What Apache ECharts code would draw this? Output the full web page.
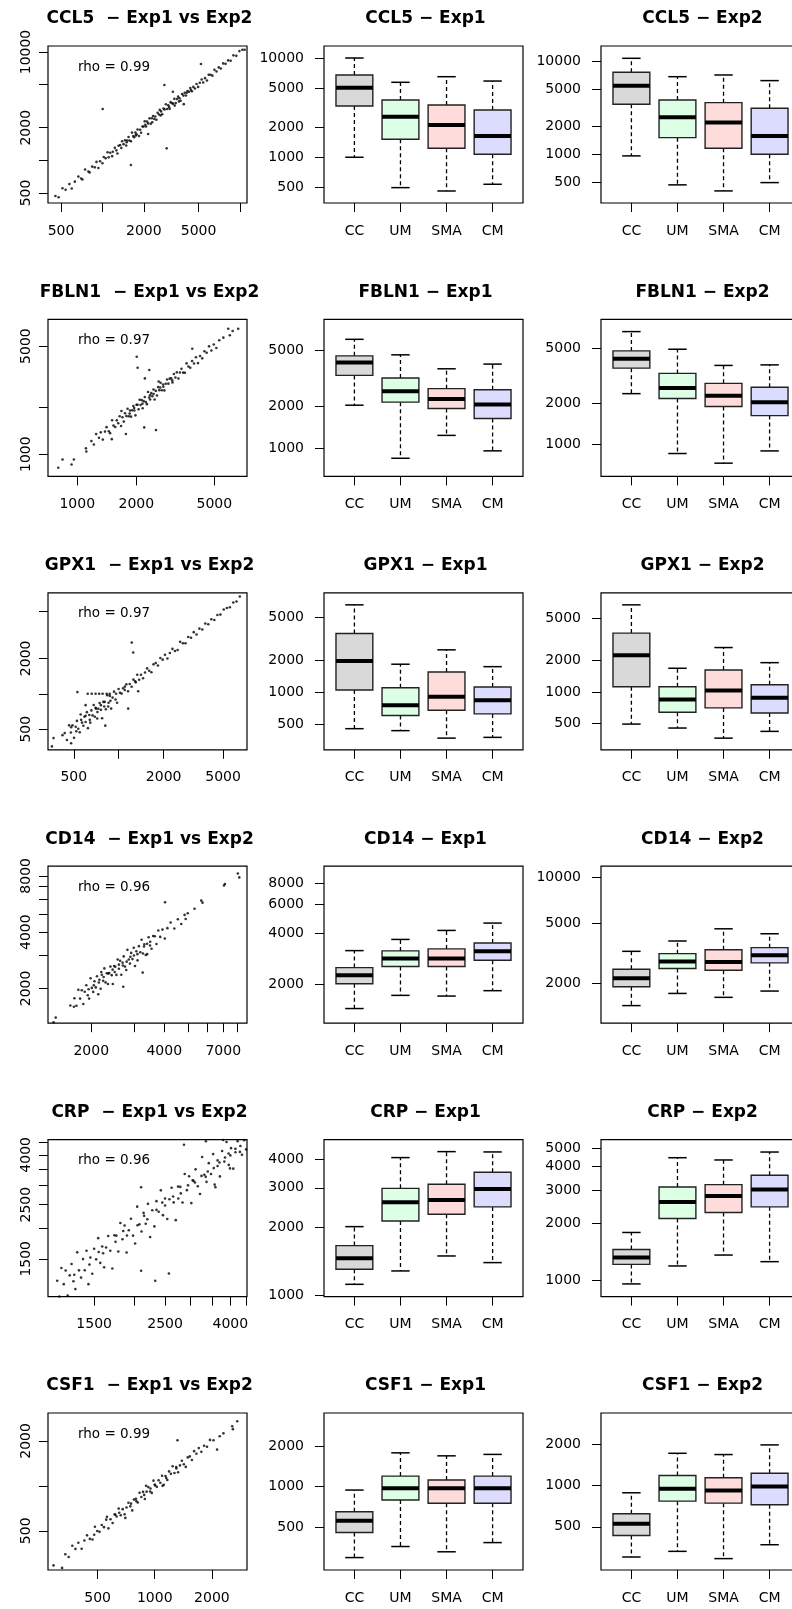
<!DOCTYPE html>
<html>
<head>
<meta charset="utf-8">
<script src="https://cdn.jsdelivr.net/npm/echarts@6/dist/echarts.min.js"></script>
<style>
html,body{margin:0;padding:0;background:#fff;overflow:hidden;}
#chart{width:800px;height:1609px;}
</style>
</head>
<body>
<div id="chart"></div>
<script>
// ---------------- DATA ----------------
const genes = ['CCL5', 'FBLN1', 'GPX1', 'CD14', 'CRP', 'CSF1'];
const groups = ['CC', 'UM', 'SMA', 'CM'];
const rhoValues = ['0.99', '0.97', '0.97', '0.96', '0.96', '0.99'];

// Exp1 vs Exp2 scatter pairs [exp1, exp2] (read/estimated from the picture)
const ccl5Pairs = [[455,469],[480,456],[512,553],[540,535],[575,604],[598,550],[630,636],[668,708],[700,679],[715,665],[748,823],[790,790],[806,774],[842,876],[880,862],[905,968],[935,851],[962,981],[1000,940],[1022,1073],[1055,1044],[1090,1188],[1110,1066],[1140,1174],[1175,1093],[1190,1202],[1230,1304],[1262,1237],[1285,1157],[1310,1362],[1345,1385],[1372,1303],[1390,1501],[1425,1411],[1460,1533],[1488,1369],[1510,1525],[1548,1641],[1570,1523],[1612,1499],[1640,1804],[1675,1675],[1700,1632],[1735,1804],[1772,1737],[1800,1926],[1845,1679],[1880,1918],[1910,1795],[1955,2053],[1990,2050],[2030,2294],[2075,2054],[2110,2279],[2150,2193],[2200,2442],[2245,2178],[2290,2450],[2330,2563],[2385,2409],[2420,2541],[2470,2371],[2520,2747],[2575,2652],[2610,2923],[2670,2830],[2720,2666],[2780,3002],[2830,2943],[2890,3295],[2950,2980],[3010,3221],[3080,2988],[3130,3443],[3200,3360],[3270,3335],[3330,3696],[3410,3376],[3480,3689],[3550,3870],[3630,3739],[3700,3552],[3790,4093],[3880,3958],[3960,4198],[4050,3969],[4150,4358],[4260,4303],[4350,4655],[4470,4336],[4580,4763],[4700,4606],[4830,5072],[4960,4762],[5100,5202],[5260,5576],[5400,5238],[5570,5737],[5750,5463],[5920,6157],[6100,6161],[6300,6048],[6520,6846],[6750,6615],[7000,7210],[7250,7033],[7550,7852],[7850,7772],[8200,8364],[8550,8294],[8950,9308],[9400,9212],[9900,10197],[10400,10504],[10800,10476],[2300,2250],[2650,2600],[3050,3100],[3600,3500],[4100,4200],[1500,1470],[1750,1700],[2050,2130],[4400,4450],[3350,3200],[1004,2980],[2820,4960],[2930,1290],[1610,907],[5200,7740],[3250,4300],[2150,1750],[3900,3300]];
const fbln1Pairs = [[770,706],[800,817],[841,924],[935,858],[961,924],[1107,1090],[1112,1040],[1180,1215],[1215,1154],[1248,1348],[1290,1277],[1318,1384],[1350,1242],[1385,1399],[1410,1495],[1448,1405],[1470,1367],[1505,1656],[1530,1530],[1562,1500],[1590,1654],[1618,1586],[1645,1760],[1672,1522],[1700,1734],[1728,1624],[1752,1840],[1780,1762],[1805,1967],[1830,1757],[1858,1914],[1880,1748],[1905,1924],[1932,2048],[1955,1916],[1980,1782],[2005,2085],[2028,2089],[2055,1952],[2080,2246],[2102,2081],[2130,2237],[2155,1983],[2180,2202],[2210,2343],[2238,2171],[2265,2106],[2295,2525],[2325,2325],[2352,2258],[2385,2480],[2415,2367],[2448,2619],[2480,2257],[2515,2565],[2550,2397],[2585,2714],[2620,2594],[2660,2899],[2700,2592],[2740,2822],[2780,2585],[2825,2853],[2870,3042],[2915,2857],[2960,3078],[3010,3100],[3060,2907],[3110,3297],[3165,3133],[3220,3381],[3280,3083],[3340,3373],[3400,3570],[3470,3366],[3540,3363],[3610,3863],[3690,3690],[3770,3619],[3850,4004],[3940,3861],[4030,4232],[4130,3882],[4230,4315],[4340,4166],[4450,4628],[4570,4524],[4700,4982],[4830,4685],[4970,5119],[5120,4864],[5300,5459],[5560,5671],[5890,6470],[6000,5880],[6200,6262],[6620,6470],[1850,1830],[2150,2120],[2450,2450],[2750,2730],[3050,3000],[2350,2400],[1950,1990],[2650,2700],[2010,4270],[2032,3620],[2330,3500],[2212,3090],[2195,1490],[2520,1431],[1770,1349],[3860,4810],[1500,1250],[1680,1900],[2600,2950]];
const gpx1Pairs = [[366,420],[357,357],[435,463],[420,445],[450,405],[465,539],[478,468],[490,539],[502,422],[515,525],[525,588],[536,504],[548,471],[556,667],[568,568],[580,534],[590,637],[600,576],[612,698],[622,510],[635,660],[645,568],[656,722],[668,655],[680,802],[692,637],[705,747],[718,617],[730,745],[745,834],[760,730],[774,619],[790,853],[805,853],[820,738],[838,972],[855,838],[872,959],[890,748],[910,928],[930,1042],[952,895],[975,839],[998,1098],[1020,1020],[1045,1003],[1070,1113],[1098,1076],[1125,1204],[1155,1051],[1185,1209],[1220,1147],[1255,1318],[1290,1277],[1330,1450],[1370,1315],[1410,1452],[1455,1353],[1500,1515],[1550,1643],[1600,1568],[1655,1523],[1710,1778],[1770,1823],[1830,1739],[1900,2014],[1970,1950],[2040,2142],[2120,1993],[2200,2222],[2290,2405],[2380,2309],[2480,2356],[2580,2761],[2690,2690],[2800,2688],[2920,3037],[3050,2989],[3180,3339],[3320,3187],[3470,3574],[3630,3521],[3800,3952],[3980,3900],[4170,4295],[4370,4239],[4580,4672],[4800,4704],[5050,5202],[5300,5353],[5550,5439],[5850,5967],[6150,6089],[6470,6700],[560,600],[640,600],[720,700],[800,780],[880,870],[960,1000],[600,650],[700,760],[850,780],[1100,1150],[1300,1250],[520,480],[480,520],[760,800],[1222,2720],[1250,2240],[529,1033],[620,1000],[660,1000],[700,1000],[740,1000],[780,1000],[830,1000],[870,1000],[1157,748],[813,536],[600,800],[480,380],[1350,1050]];
const cd14Pairs = [[1428,1396],[1399,1318],[1697,1597],[1640,1620],[1705,1773],[1738,1616],[1770,1965],[1800,1764],[1828,1956],[1855,1651],[1880,1918],[1908,2080],[1935,1838],[1960,1764],[1988,2266],[2012,2012],[2038,1916],[2062,2186],[2088,2025],[2112,2323],[2138,1860],[2162,2227],[2188,1991],[2212,2367],[2240,2195],[2265,2559],[2292,2154],[2318,2411],[2345,2111],[2372,2419],[2400,2616],[2428,2355],[2455,2111],[2485,2634],[2512,2612],[2540,2362],[2570,2853],[2600,2548],[2630,2814],[2660,2367],[2692,2746],[2722,2967],[2755,2617],[2788,2509],[2820,3215],[2855,2855],[2888,2715],[2922,3097],[2958,2869],[2995,3295],[3030,2636],[3068,3160],[3105,2826],[3145,3365],[3185,3121],[3225,3644],[3268,3072],[3310,3442],[3355,3020],[3400,3468],[3448,3758],[3495,3390],[3545,3261],[3600,3816],[3655,3801],[3715,3455],[3780,4082],[3850,3773],[3930,4127],[4020,3698],[4120,4202],[4250,4505],[4400,4180],[4550,4687],[4700,4418],[4850,4947],[2150,2150],[2350,2400],[2500,2450],[2700,2650],[2900,2950],[3100,3050],[3300,3350],[2250,2300],[2050,2080],[2600,2680],[2800,2780],[3000,3000],[3500,3550],[2450,2520],[1950,1980],[8040,8240],[8150,7850],[7110,7240],[7050,7100],[5680,5900],[5750,5750],[4030,5780],[5330,5330],[5000,5050],[4900,4700],[2710,2040],[3260,2430],[2200,2450],[3400,3050]];
const crpPairs = [[1150,1219],[1168,1051],[1185,1375],[1205,1181],[1222,1344],[1240,1060],[1258,1283],[1275,1428],[1292,1214],[1310,1127],[1328,1594],[1345,1345],[1365,1256],[1385,1496],[1402,1346],[1420,1619],[1440,1181],[1460,1518],[1480,1302],[1500,1650],[1522,1492],[1545,1823],[1568,1443],[1590,1685],[1612,1386],[1635,1668],[1660,1859],[1685,1618],[1710,1368],[1735,1874],[1760,1866],[1785,1607],[1812,2102],[1840,1803],[1868,2055],[1895,1592],[1925,1964],[1955,2190],[1985,1866],[2015,1733],[2045,2454],[2078,2078],[2110,1941],[2142,2313],[2175,2088],[2210,2519],[2245,1841],[2280,2371],[2315,2037],[2350,2585],[2388,2340],[2425,2862],[2462,2265],[2500,2650],[2540,2184],[2580,2632],[2620,2934],[2660,2554],[2700,2160],[2745,2965],[2790,2957],[2835,2552],[2880,3341],[2925,2867],[2972,3269],[3020,2537],[3068,3129],[3115,3489],[3165,2975],[3215,2765],[3265,3918],[3318,3318],[3370,3100],[3425,3699],[3480,3341],[3535,4030],[3592,2945],[3650,3796],[3710,3265],[3770,4147],[3830,3753],[3892,4515],[3955,3639],[4020,4261],[4085,3513],[4150,4233],[4215,4552],[4285,4114],[4350,4002],[4420,4597],[4480,4211],[1300,1290],[1450,1420],[1600,1580],[1750,1760],[1900,1870],[2050,2060],[2200,2180],[2350,2380],[2500,2480],[2650,2700],[2800,2780],[2950,3000],[3100,3080],[3250,3280],[3400,3420],[3550,3530],[3700,3720],[3850,3900],[4000,3980],[4150,4100],[4300,4350],[2450,2550],[2750,2650],[3050,3150],[3350,3250],[3650,3600],[3950,4050],[2150,2250],[1850,1950],[1550,1600],[2104,1340],[2570,1306],[2329,1219],[2104,2945],[2865,4400],[3355,4550],[3573,3020],[3990,3520],[3800,4600]];
const csf1Pairs = [[293,293],[325,282],[338,348],[352,334],[368,397],[382,378],[396,416],[412,379],[426,430],[440,466],[455,441],[470,437],[484,532],[498,498],[512,492],[526,547],[540,529],[555,594],[570,519],[585,597],[600,564],[615,646],[630,624],[646,704],[662,636],[678,698],[694,645],[710,717],[727,771],[744,729],[761,685],[778,809],[796,820],[814,773],[832,899],[850,842],[868,911],[887,816],[906,915],[925,981],[945,917],[965,897],[985,1084],[1005,1005],[1026,985],[1048,1090],[1070,1049],[1093,1170],[1116,1016],[1140,1163],[1165,1095],[1190,1250],[1216,1204],[1243,1355],[1270,1219],[1298,1337],[1328,1235],[1358,1372],[1390,1473],[1423,1395],[1457,1340],[1492,1552],[1530,1576],[1570,1492],[1612,1709],[1658,1641],[1706,1791],[1760,1690],[1820,1856],[1885,1828],[1955,2033],[2040,2020],[2200,2150],[2300,2250],[2560,2510],[2580,2400],[2720,2710],[480,470],[620,640],[750,760],[880,870],[1000,1020],[1150,1130],[1300,1310],[800,790],[950,960],[650,660],[2130,1750],[1318,2020],[700,610],[900,1000],[560,620],[1100,1000]];

// Box summaries per group (CC, UM, SMA, CM): [lowWhisker, Q1, median, Q3, highWhisker]
const ccl5Exp1 = [[998,3280,5020,6740,10000],[493,1515,2560,3775,5690],[456,1230,2110,3360,6480],[533,1069,1636,2990,5860]];
const ccl5Exp2 = [[957,3460,5500,7680,10880],[465,1508,2505,3855,6880],[400,1159,2192,3604,7180],[492,997,1574,3135,6240]];
const fbln1Exp1 = [[2033,3320,4110,4580,6010],[849,2137,2557,3180,4655],[1237,1923,2253,2668,3700],[959,1634,2055,2624,3998]];
const fbln1Exp2 = [[2337,3584,4186,4783,6610],[857,2152,2570,3281,4920],[729,1883,2260,2778,3750],[895,1618,2025,2600,3785]];
const gpx1Exp1 = [[458,1050,1963,3540,6540],[439,607,759,1102,1828],[374,681,908,1549,2489],[380,629,845,1119,1734]];
const gpx1Exp2 = [[495,1119,2235,3625,6720],[454,641,848,1119,1679],[364,705,1033,1617,2641],[422,631,879,1170,1898]];
const cd14Exp1 = [[1438,2019,2270,2518,3175],[1722,2555,2846,3162,3700],[1706,2555,2846,3250,4185],[1836,2782,3147,3525,4627]];
const cd14Exp2 = [[1429,1902,2167,2483,3257],[1719,2508,2786,3144,3810],[1620,2444,2775,3340,4585],[1782,2734,3065,3444,4253]];
const crpExp1 = [[1122,1308,1462,1665,2020],[1286,2141,2588,2985,4083],[1498,2291,2653,3111,4339],[1400,2470,2966,3514,4325]];
const crpExp2 = [[961,1218,1325,1460,1794],[1195,2125,2600,3117,4443],[1364,2284,2795,3205,4323],[1259,2448,3018,3590,4760]];
const csf1Exp1 = [[298,457,560,653,945],[360,797,973,1200,1785],[329,754,973,1121,1696],[385,754,973,1200,1738]];
const csf1Exp2 = [[301,432,526,622,885],[331,769,946,1183,1718],[293,744,920,1138,1682],[370,724,983,1229,1978]];

// Axis ranges [min, max]
const scatterXRange = [[402,11240],[709,7340],[336,7230],[1327,8770],[1076,4510],[274,3062]];
const scatterYRange = [[404,11360],[718,7440],[334,7210],[1303,9010],[1050,4620],[273,3079]];
const exp1YRange = [[345,13220],[630,8340],[291,8470],[1177,10070],[990,4905],[241,3527]];
const exp2YRange = [[296,14780],[584,8110],[282,8750],[1094,11860],[824,5535],[242,3380]];

// Tick values and tick labels
const scatterXTicks = [[500,1000,2000,5000,10000],[1000,2000,5000],[500,1000,2000,5000],[2000,3000,4000,5000,6000,7000,8000],[1500,2000,2500,3000,3500,4000,4500],[500,1000,2000]];
const scatterXLabels = [[500,2000,5000],[1000,2000,5000],[500,2000,5000],[2000,4000,7000],[1500,2500,4000],[500,1000,2000]];
const scatterYTicks = [[500,1000,2000,5000,10000],[1000,2000,5000],[500,1000,2000,5000],[2000,3000,4000,5000,6000,7000,8000],[1500,2000,2500,3000,3500,4000,4500],[500,1000,2000]];
const scatterYLabels = [[500,2000,10000],[1000,5000],[500,2000],[2000,4000,8000],[1500,2500,4000],[500,2000]];
const exp1YTicks = [[500,1000,2000,5000,10000],[1000,2000,5000],[500,1000,2000,5000],[2000,4000,6000,8000],[1000,2000,3000,4000],[500,1000,2000]];
const exp2YTicks = [[500,1000,2000,5000,10000],[1000,2000,5000],[500,1000,2000,5000],[2000,5000,10000],[1000,2000,3000,4000,5000],[500,1000,2000]];

const pairsByGene = [ccl5Pairs, fbln1Pairs, gpx1Pairs, cd14Pairs, crpPairs, csf1Pairs];
const exp1ByGene = [ccl5Exp1, fbln1Exp1, gpx1Exp1, cd14Exp1, crpExp1, csf1Exp1];
const exp2ByGene = [ccl5Exp2, fbln1Exp2, gpx1Exp2, cd14Exp2, crpExp2, csf1Exp2];

// ---------------- LAYOUT / STYLE ----------------
const FONT = '"DejaVu Sans", "Liberation Sans", Arial, sans-serif';
const boxColors = ['#d9d9d9', '#dcffe6', '#ffdcdc', '#dcdcff'];
const colLeft = [48, 324, 601];
const PW = 199, PH = 157;
const rowTop = i => 46 + 273.4 * i;

const chart = echarts.init(document.getElementById('chart'), null, {renderer: 'canvas', width: 800, height: 1609});

const grids = [], xAxes = [], yAxes = [], series = [], graphics = [];
const fmt = v => String(Math.round(v));

function tickCfg(vals) {
  return {show: true, inside: false, length: 9, customValues: vals, lineStyle: {color: '#000', width: 1}};
}
function labelCfg(vals, margin, extra) {
  return Object.assign({show: true, customValues: vals, color: '#000', fontFamily: FONT, fontSize: 14, margin: margin, formatter: fmt}, extra || {});
}

function boxRender(params, api) {
  const x = api.value(0);
  const lo = api.coord([x, api.value(1)]);
  const q1 = api.coord([x, api.value(2)]);
  const md = api.coord([x, api.value(3)]);
  const q3 = api.coord([x, api.value(4)]);
  const hi = api.coord([x, api.value(5)]);
  const cx = md[0];
  const half = api.coord([x + 0.4, api.value(3)])[0] - cx;
  const cap = half / 2;
  const dash = {stroke: '#000', lineWidth: 1.3, lineDash: [4, 3]};
  const solid = {stroke: '#000', lineWidth: 1.5};
  return {
    type: 'group',
    children: [
      {type: 'line', shape: {x1: cx, y1: q3[1], x2: cx, y2: hi[1]}, style: dash},
      {type: 'line', shape: {x1: cx, y1: q1[1], x2: cx, y2: lo[1]}, style: dash},
      {type: 'line', shape: {x1: cx - cap, y1: hi[1], x2: cx + cap, y2: hi[1]}, style: solid},
      {type: 'line', shape: {x1: cx - cap, y1: lo[1], x2: cx + cap, y2: lo[1]}, style: solid},
      {type: 'rect', shape: {x: cx - half, y: q3[1], width: 2 * half, height: q1[1] - q3[1]},
        style: {fill: boxColors[params.dataIndex], stroke: '#222', lineWidth: 1.4}},
      {type: 'line', shape: {x1: cx - half, y1: md[1], x2: cx + half, y2: md[1]}, style: {stroke: '#000', lineWidth: 4}}
    ]
  };
}

genes.forEach((gene, i) => {
  const top = rowTop(i);
  for (let c = 0; c < 3; c++) {
    grids.push({left: colLeft[c], top: top, width: PW, height: PH, show: true,
      borderColor: '#000', borderWidth: 1.2, backgroundColor: '#fff', containLabel: false});
  }
  const g0 = i * 3;
  // Scatter axes
  xAxes.push({type: 'log', logBase: 10, gridIndex: g0, min: scatterXRange[i][0], max: scatterXRange[i][1],
    axisLine: {show: false}, splitLine: {show: false}, minorTick: {show: false},
    axisTick: tickCfg(scatterXTicks[i]), axisLabel: labelCfg(scatterXLabels[i], 21)});
  yAxes.push({type: 'log', logBase: 10, gridIndex: g0, min: scatterYRange[i][0], max: scatterYRange[i][1],
    axisLine: {show: false}, splitLine: {show: false}, minorTick: {show: false},
    axisTick: tickCfg(scatterYTicks[i]), axisLabel: labelCfg(scatterYLabels[i], 15, {rotate: 90})});
  // Box axes
  [exp1YRange, exp2YRange].forEach((rng, k) => {
    const gi = g0 + 1 + k;
    xAxes.push({type: 'value', gridIndex: gi, min: 0.34, max: 4.66,
      axisLine: {show: false}, splitLine: {show: false},
      axisTick: tickCfg([1, 2, 3, 4]),
      axisLabel: labelCfg([1, 2, 3, 4], 21, {formatter: v => groups[Math.round(v) - 1]})});
    yAxes.push({type: 'log', logBase: 10, gridIndex: gi, min: rng[i][0], max: rng[i][1],
      axisLine: {show: false}, splitLine: {show: false}, minorTick: {show: false},
      axisTick: tickCfg(k === 0 ? exp1YTicks[i] : exp2YTicks[i]),
      axisLabel: labelCfg(k === 0 ? exp1YTicks[i] : exp2YTicks[i], 20)});
  });

  series.push({type: 'scatter', xAxisIndex: g0, yAxisIndex: g0, data: pairsByGene[i],
    symbol: 'circle', symbolSize: 2.6, itemStyle: {color: '#000'}, silent: true, animation: false});
  [exp1ByGene, exp2ByGene].forEach((src, k) => {
    const gi = g0 + 1 + k;
    series.push({type: 'custom', xAxisIndex: gi, yAxisIndex: gi,
      dimensions: ['pos', 'low', 'q1', 'median', 'q3', 'high'],
      encode: {x: 0, y: [1, 2, 3, 4, 5]},
      data: src[i].map((v, j) => [j + 1].concat(v)),
      renderItem: boxRender, animation: false, silent: true});
  });

  // Titles
  const titles = [gene + '  \u2212 Exp1 vs Exp2', gene + ' \u2212 Exp1', gene + ' \u2212 Exp2'];
  titles.forEach((t, c) => {
    graphics.push({type: 'text', x: colLeft[c] + PW / 2 + 2, y: top - 27, silent: true,
      style: {text: t, font: 'bold 17px ' + FONT, fill: '#000', align: 'center', verticalAlign: 'middle',
        textAlign: 'center', textVerticalAlign: 'middle'}});
  });
  graphics.push({type: 'text', x: colLeft[0] + 30, y: top + 21, silent: true,
    style: {text: 'rho = ' + rhoValues[i], font: '13.5px ' + FONT, fill: '#000', align: 'left', verticalAlign: 'middle',
      textAlign: 'left', textVerticalAlign: 'middle'}});
});

chart.setOption({
  animation: false,
  backgroundColor: '#fff',
  grid: grids,
  xAxis: xAxes,
  yAxis: yAxes,
  series: series,
  graphic: {elements: graphics}
});
</script>
</body>
</html>
